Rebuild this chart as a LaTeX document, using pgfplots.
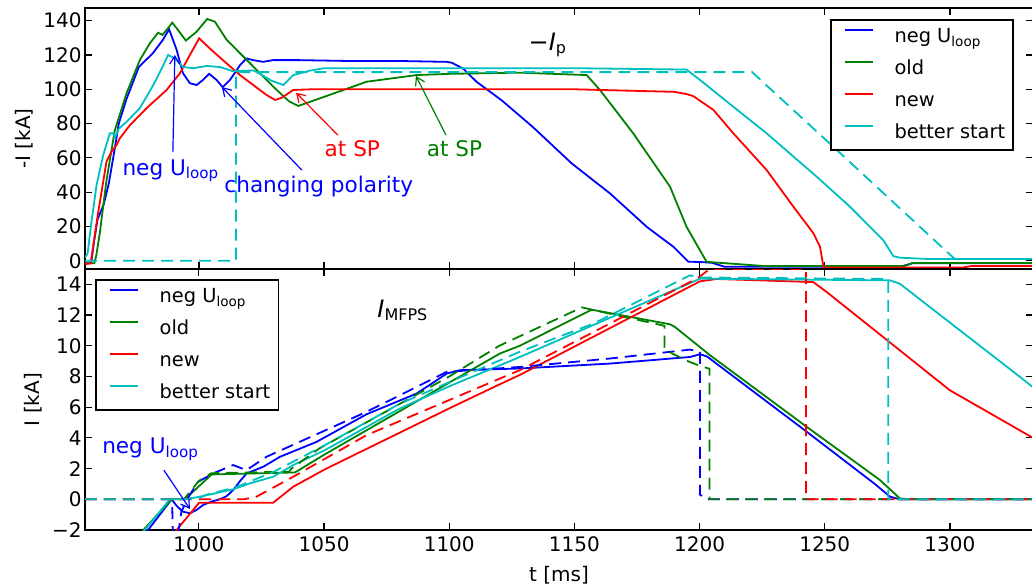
\documentclass[border=0pt]{standalone}
\usepackage{fontspec}
\setmainfont{DejaVu Sans}
\usepackage{pgfplots}
\pgfplotsset{compat=1.18}
\usetikzlibrary{arrows.meta}
\definecolor{mblue}{rgb}{0,0,1}
\definecolor{mgreen}{rgb}{0,0.5,0}
\definecolor{mred}{rgb}{1,0,0}
\definecolor{mcyan}{rgb}{0,0.75,0.75}
\newcommand{\hs}{\rule{0pt}{7.5pt}}
\newcommand{\ds}{\rule[-4.7pt]{0pt}{4.7pt}}
\tikzset{
  dsh/.style={dash pattern=on 6pt off 3.5pt},
  ann/.style={font=\fontsize{10.8}{13}\selectfont, anchor=base},
  arr/.style={-{Straight Barb[length=4pt,width=5pt]}, line width=0.6pt},
}
\pgfplotsset{
  panel/.style={
    scale only axis, width=474pt, height=130.5pt,
    xmin=954.5, xmax=1333.2,
    axis line style={line width=0.8pt},
    tick align=inside, major tick length=3.5pt,
    every tick/.style={black, line width=0.6pt},
    xtick={1000,1050,...,1300},
    /pgf/number format/assume math mode=true,
    /pgf/number format/1000 sep={},
    ticklabel style={font=\fontsize{10}{12}\selectfont},
    yticklabel style={inner xsep=1.5pt},
    label style={font=\fontsize{10}{12}\selectfont},
    legend cell align=left,
    legend image code/.code={\path (0pt,3.5pt); \draw[##1,line width=0.9pt] (6pt,3.5pt) -- (20pt,3.5pt);},
    legend style={draw=black, line width=0.8pt, fill=white, inner sep=0.5pt, row sep=0pt, column sep=7pt,
      font=\fontsize{9.7}{12}\selectfont, nodes={inner sep=3.5pt}},
    every axis plot/.append style={line width=0.9pt},
  },
}
\begin{document}
\begin{tikzpicture}
\useasboundingbox (-42.5pt,-27.5pt) rectangle (473.5pt,265pt);
% ---------------- top panel ----------------
\begin{axis}[panel, at={(0pt,130.5pt)}, anchor=south west,
  xticklabels={}, ymin=-4.8, ymax=147.4, ytick={0,20,...,140},
  ylabel={-I [kA]},
  legend style={at={(0.98,0.958)}, anchor=north east}]
\addplot[mblue] coordinates {
(954.5,-1.5)(957,-1)(958,10)(959.5,24)(962,33)(964,45)(966,62)(968,80)(971,94)(976,113)(981.6,121)(985.6,128.8)(988.1,135)(991.1,123)(993.6,109.5)(996.4,103.5)(999.1,102.5)(1001.6,105.4)(1004.1,109)(1007.1,105.4)(1009.5,101.2)(1012.4,105.4)(1016.4,114)(1019,118)(1021.7,117)(1025.6,116)(1029.6,117)(1040,117)(1060,116.5)(1080,116.5)(1099,116)(1101,115.5)(1105.6,112)(1110.9,104.4)(1121,93.5)(1133.4,78)(1148.9,56.8)(1164.2,39.3)(1178.9,19.8)(1189.5,8.2)(1195.5,-0.5)(1201,-0.8)(1205,-1.2)(1210,-3.5)(1280,-3.5)(1285,-1.5)(1333.2,-1.5)};
\addlegendentry{\hs\ds neg U\textsubscript{loop}}
\addplot[mgreen] coordinates {
(954.5,-1.5)(958.2,-1.5)(959,3)(960.4,16)(963.1,47)(966.4,76)(971.1,97.7)(976.4,117)(980.4,126.8)(983.7,133)(985.5,131.7)(989.4,138.9)(994.8,128.4)(999.1,133.6)(1003.3,141)(1006.4,139.4)(1011.1,128.8)(1020.4,115.2)(1029.7,101.5)(1036,93)(1039.7,90.3)(1048.3,94.7)(1067,104.4)(1087,108.3)(1100,109)(1128,109.7)(1154.9,108.3)(1160.2,99.6)(1173.5,74.3)(1188.2,43.2)(1194.8,19.8)(1202.8,-0.6)(1208,-1.2)(1215,-1.9)(1225,-3)(1282,-3)(1285,-1.3)(1333.2,-1.3)};
\addlegendentry{\hs old}
\addplot[mred] coordinates {
(954.5,-2)(956.8,-1.5)(957.8,9)(959.8,28.6)(961.1,40)(963.1,58)(965.1,63.6)(967.1,67.5)(968.4,71.4)(972.4,79)(979.1,89)(987.1,99.6)(992.4,109.3)(996.4,120)(1000.1,129.7)(1005.7,122)(1016.4,108.3)(1027,96.7)(1030.4,93.8)(1033,95)(1037.7,99.6)(1045,100)(1100,100)(1150,100)(1190,98.5)(1194.8,97.2)(1197.5,96)(1205.5,88)(1213.5,74.3)(1226.8,52.9)(1237.5,31.5)(1245.5,16)(1248.1,8.2)(1249.5,-3.5)(1250,-4)(1305,-4)(1309,-3)(1333.2,-3)};
\addlegendentry{\hs new}
\addplot[mcyan] coordinates {
(954.5,2)(955.5,4)(957.1,22.8)(959.1,44)(961.8,61.7)(964.4,74.3)(965.8,74.3)(966.5,72)(968,77)(971.1,81)(976.4,89)(981.8,102.5)(985.8,114)(987.7,120)(990.4,118)(993.7,113)(997.7,112.3)(1003.1,113.6)(1008.4,113)(1013.7,110.5)(1021.7,111)(1025,108.5)(1029,105)(1033.7,102.5)(1037.7,108.3)(1044.4,110.9)(1050,112.3)(1100,112.3)(1150,112.3)(1194.8,111.5)(1200.2,105.4)(1213.5,89.8)(1226.8,74.3)(1246.8,49)(1260.1,31.5)(1273.4,12)(1277.4,2.7)(1280,1.8)(1292,1)(1333.2,1)};
\addlegendentry{\hs better start}
\addplot[mcyan, dsh, forget plot] coordinates {
(954.5,0)(1014.8,0)(1014.8,110)(1221,110)(1253.4,66.5)(1299,5)(1302,1)(1333.2,1)};
\node[font=\fontsize{12}{14}\selectfont] at (axis cs:1139.4,125.8) {−\textit{I}\textsubscript{p}};
\node[ann, text=mblue] at (axis cs:988.8,50) {neg U\textsubscript{loop}};
\node[ann, text=mblue] at (axis cs:1047.9,39.7) {changing polarity};
\node[ann, text=mred] at (axis cs:1061.3,60.7) {at SP};
\node[ann, text=mgreen] at (axis cs:1102.1,60.7) {at SP};
\draw[arr, mblue] (axis cs:989.6,63.4) -- (axis cs:990.4,120);
\draw[arr, mblue] (axis cs:1041.1,52.9) -- (axis cs:1009.2,101.3);
\draw[arr, mred] (axis cs:1055.5,73.3) -- (axis cs:1038.8,98);
\draw[arr, mgreen] (axis cs:1098.7,73.3) -- (axis cs:1086.7,107.8);
\end{axis}
% ---------------- bottom panel ----------------
\begin{axis}[panel, at={(0pt,0pt)}, anchor=south west,
  ymin=-2, ymax=15, ytick={-2,0,...,14}, yticklabels={−2,0,2,4,6,8,10,12,14},
  xlabel={t [ms]}, ylabel={I [kA]},
  legend style={at={(0.0106,0.962)}, anchor=north west}]
\addplot[mblue] coordinates {
(970,-4.07)(979.7,-2)(989.1,0)(991,-0.4)(993.5,-0.8)(996.4,-0.91)(999,-0.7)(1001.7,-0.37)(1005,-0.15)(1008.4,0)(1011,0.2)(1013.7,0.6)(1016.5,1.2)(1019.1,1.69)(1025.7,2.12)(1032.4,2.77)(1047,3.74)(1067,5.54)(1087,6.89)(1099,8.19)(1104.3,8.41)(1128.2,8.52)(1164.2,8.84)(1196.2,9.27)(1200.2,9.45)(1203,9.3)(1242.8,4.4)(1270,1)(1276.1,0.17)(1280,0)(1333.2,0)};
\addlegendentry{\hs\ds neg U\textsubscript{loop}}
\addplot[mgreen] coordinates {
(970,-3.7)(977.8,-2)(989.1,0)(994.4,0)(1005.1,1.62)(1038.4,1.75)(1050,2.9)(1100,7.6)(1120.3,9.5)(1128.2,10.0)(1156.9,12.35)(1188.2,11.4)(1190.2,11.22)(1204.2,9.38)(1242.8,4.72)(1272.1,1.25)(1280,0.06)(1284,0)(1333.2,0)};
\addlegendentry{\hs old}
\addplot[mred] coordinates {
(985,-3.3)(991.1,-2)(1000.1,-0.22)(1029.7,-0.22)(1037.7,0.82)(1050.3,1.95)(1101,6.0)(1120.3,7.5)(1128.2,8.1)(1200.2,14.2)(1206.8,14.35)(1245.4,14.15)(1250.8,13.5)(1300,7.1)(1333.2,4.0)};
\addlegendentry{\hs new}
\addplot[mcyan] coordinates {
(970,-3.9)(978.4,-2)(988.4,0)(994.4,0)(1000.4,0.17)(1013.7,0.65)(1020.4,1.04)(1029.7,1.47)(1037.7,2.23)(1050.3,3.2)(1080.3,5.92)(1101,7.43)(1120.3,8.73)(1128.2,9.27)(1200.2,14.37)(1276.1,14.26)(1280,14.04)(1328,7.97)(1333.2,7.3)};
\addlegendentry{\hs better start}
\addplot[mblue, dsh, forget plot] coordinates {
(954.5,0)(989.3,0)(989.6,-2.5)(991.5,-2.5)(993,-0.8)(996,0.2)(999.7,1.14)(1005.7,1.69)(1013.7,2.23)(1019,1.9)(1027,2.77)(1067,5.7)(1099,8.3)(1128.2,8.62)(1164.2,9.17)(1196.2,9.75)(1200.2,9.6)(1200.2,0.3)(1202.8,0)(1333.2,0)};
\addplot[mgreen, dsh, forget plot] coordinates {
(954.5,0)(994,0)(1000,1.2)(1005,1.7)(1036,1.8)(1037,2.0)(1048,3.3)(1100,8.0)(1120,10.0)(1153,12.5)(1157,12.35)(1186,11.3)(1186,9.9)(1189,9.5)(1196,8.95)(1200,8.7)(1204,8.5)(1204,0)(1333.2,0)};
\addplot[mred, dsh, forget plot] coordinates {
(954.5,0)(1018,0)(1023,0.17)(1037.7,1.47)(1067,4.18)(1120.3,7.87)(1128.2,8.41)(1199.5,14.43)(1204,15)(1242.5,15)(1242.5,0)(1333.2,0)};
\addplot[mcyan, dsh, forget plot] coordinates {
(954.5,0)(999,0)(1003,0.3)(1015,0.8)(1030,1.8)(1050,3.5)(1080,6.2)(1101,7.7)(1128,9.6)(1157.5,11.44)(1196.2,14.59)(1200,14.45)(1275.4,14.35)(1275.4,0)(1333.2,0)};
\node[font=\fontsize{12}{14}\selectfont] at (axis cs:1081.5,12.3) {\textit{I}\textsubscript{MFPS}};
\node[ann, text=mblue] at (axis cs:980.7,2.99) {neg U\textsubscript{loop}};
\draw[arr, mblue] (axis cs:986,1.9) -- (axis cs:996.4,-0.63);
\end{axis}
\end{tikzpicture}
\end{document}
